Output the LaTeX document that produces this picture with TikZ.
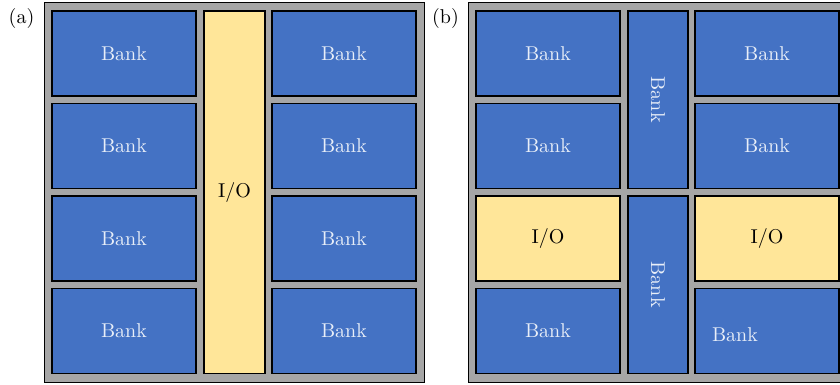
\documentclass[tikz,border=0pt]{standalone}
\usepackage{tikz}

\definecolor{bankblue}{RGB}{68,114,196}
\definecolor{ioyellow}{RGB}{255,230,153}
\definecolor{diegray}{RGB}{166,166,166}
\definecolor{banktext}{RGB}{232,238,248}

\begin{document}
\begin{tikzpicture}[x=0.5pt,y=-0.5pt,
    die/.style={draw=black, line width=0.5pt, fill=diegray},
    block/.style={draw=black, line width=0.6pt, inner sep=0pt, outer sep=0pt,
        minimum width=72pt, minimum height=42.5pt},
    bankbox/.style={block, fill=bankblue, text=banktext},
    iobox/.style={block, fill=ioyellow, text=black},
    banklabel/.style={text=banktext, inner sep=0pt}]

    % Fix the page to the full picture size
    \useasboundingbox (0,0) rectangle (840,385);

    % ---------------- (a) ----------------
    \node (taga) at (21.5,19) {(a)};

    % Die outline
    \draw[die] (44,3) rectangle (424,382);

    % Left and right columns of banks
    \node[bankbox] (a11) at (124,53.5) {Bank};
    \node[bankbox] (a21) at (124,146) {Bank};
    \node[bankbox] (a31) at (124,238.5) {Bank};
    \node[bankbox] (a41) at (124,331) {Bank};

    \node[bankbox] (a12) at (344,53.5) {Bank};
    \node[bankbox] (a22) at (344,146) {Bank};
    \node[bankbox] (a32) at (344,238.5) {Bank};
    \node[bankbox] (a42) at (344,331) {Bank};

    % I/O strip in the middle
    \node[iobox, minimum width=30.5pt, minimum height=181.25pt] (aio) at (234.5,192.25) {I/O};

    % ---------------- (b) ----------------
    \node (tagb) at (445.5,19) {(b)};

    % Die outline
    \draw[die] (468,3) rectangle (848,382);

    % Left column
    \node[bankbox] (b11) at (548,53.5) {Bank};
    \node[bankbox] (b21) at (548,146) {Bank};
    \node[iobox] (b31) at (548,238.5) {I/O};
    \node[bankbox] (b41) at (548,331) {Bank};

    % Right column
    \node[bankbox] (b12) at (767,53.5) {Bank};
    \node[bankbox] (b22) at (767,146) {Bank};
    \node[iobox] (b32) at (767,238.5) {I/O};
    \node[bankbox] (b42) at (767,331) {};
    \node[banklabel] (b42t) at (735,335) {Bank};

    % Tall banks in the middle, text turned on its side
    \node[bankbox, minimum width=30pt, minimum height=88.75pt] (bmid1) at (658,99.75) {};
    \node[banklabel, rotate=-90] (bmid1t) at (bmid1) {Bank};
    \node[bankbox, minimum width=30pt, minimum height=88.75pt] (bmid2) at (658,284.75) {};
    \node[banklabel, rotate=-90] (bmid2t) at (bmid2) {Bank};

\end{tikzpicture}
\end{document}
